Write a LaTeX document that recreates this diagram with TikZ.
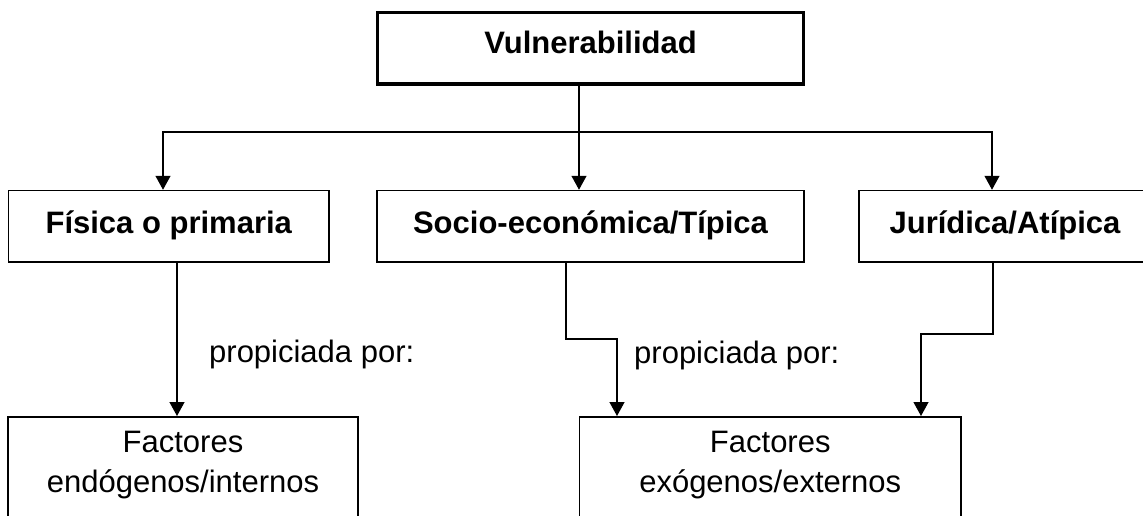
\documentclass[tikz,border=0pt]{standalone}
\usepackage{fontspec}
\setmainfont{Liberation Sans}
\usetikzlibrary{arrows.meta}
\tikzset{
  box/.style={draw=black, line width=1.5pt, rectangle, inner sep=0pt, fill=white,
    font=\fontsize{31}{40}\selectfont\bfseries, text height=22pt, text depth=7pt},
  topbox/.style={box, line width=3.5pt, text depth=12.5pt},
  lowbox/.style={draw=black, line width=1.5pt, rectangle, inner sep=0pt, anchor=north},
  txt/.style={inner sep=0pt, font=\fontsize{31}{40}\selectfont},
  conn/.style={draw=black, line width=1.3pt},
  arr/.style={conn, -{Triangle[width=15pt,length=14pt]}}
}
\begin{document}
\begin{tikzpicture}[x=1pt,y=-1pt]
\useasboundingbox (0,0) rectangle (1143,515);
% boxes
\node[topbox, minimum width=426pt, minimum height=71.5pt] (vul) at (590.5,48.25) {Vulnerabilidad};
\node[box, minimum width=320.5pt, minimum height=71.5pt] (fis) at (168.75,226.25) {Física o primaria};
\node[box, minimum width=427pt, minimum height=71.5pt] (soc) at (590.5,226.25) {Socio-económica/Típica};
\node[box, minimum width=292pt, minimum height=71.5pt] (jur) at (1005,226.25) {Jurídica/Atípica};
\node[lowbox, minimum width=350pt, minimum height=124pt] (fac1) at (183,416) {};
\node[lowbox, minimum width=381.5pt, minimum height=124pt] (fac2) at (770.25,416) {};
% text baselines
\coordinate (bl1) at (0,452);
\coordinate (bl2) at (0,492);
\node[txt, anchor=base] (f1a) at (fac1.north |- bl1) {Factores};
\node[txt, anchor=base] (f1b) at (fac1.north |- bl2) {endógenos/internos};
\node[txt, anchor=base] (f2a) at (fac2.north |- bl1) {Factores};
\node[txt, anchor=base] (f2b) at (fac2.north |- bl2) {exógenos/externos};
\node[txt, anchor=base west] (prop1) at (209,362) {propiciada por:};
\node[txt, anchor=base west] (prop2) at (634,363) {propiciada por:};
% bus
\coordinate (busL) at (163,132);
\coordinate (busM) at (579,132);
\coordinate (busR) at (992,132);
\draw[conn] (vul.south -| busM) -- (busM);
\draw[arr] (busM) -- (busL) -- (busL |- fis.north);
\draw[arr] (busM) -- (busR) -- (busR |- jur.north);
\draw[arr] (busM) -- (busM |- soc.north);
% lower connectors
\coordinate (d1) at (177,0);
\draw[arr] (fis.south -| d1) -- (fac1.north -| d1);
\coordinate (s1) at (566,339);
\coordinate (s2) at (617,339);
\draw[arr] (soc.south -| s1) -- (s1) -- (s2) -- (fac2.north -| s2);
\coordinate (j1) at (993,334);
\coordinate (j2) at (921,334);
\draw[arr] (jur.south -| j1) -- (j1) -- (j2) -- (fac2.north -| j2);
\end{tikzpicture}
\end{document}
